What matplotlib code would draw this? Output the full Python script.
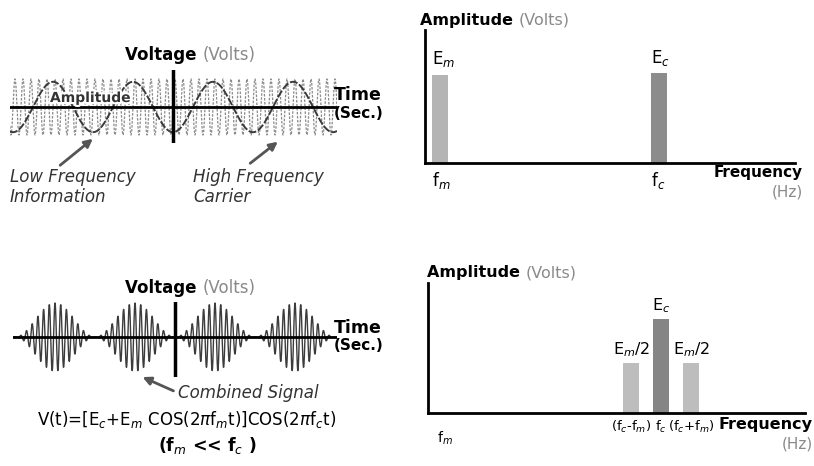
import numpy as np
import matplotlib
matplotlib.use("Agg")
import matplotlib.pyplot as plt
import matplotlib.patheffects as pe

W, H = 814, 466

# --- data (schematic units) ---
# time axis in units of the information period (1/fm)
t_top = np.linspace(-2.04, 2.05, 8000)
t_bot = np.linspace(-2.03, 2.03, 8000)
carrier_cycles_top = 10     # carrier cycles per info period (top sketch)
carrier_cycles_bot = 14     # carrier cycles per info period (combined sketch)
info_amp = 0.9
carrier_amp = 1.0
Ec = 1.0
Em = 1.0

# spectrum of the separate signals
spec1_x = [0.5, 7.8]
spec1_h = [0.98, 1.0]
spec1_lab = [r"E$_m$", r"E$_c$"]
spec1_tick = [r"f$_m$", r"f$_c$"]

# spectrum of the combined signal
spec2_x = [6.77, 7.77, 8.77]
spec2_h = [0.53, 1.0, 0.53]
spec2_lab = [r"E$_m$/2", r"E$_c$", r"E$_m$/2"]
spec2_tick = [r"(f$_c$-f$_m$)", r"f$_c$", r"(f$_c$+f$_m$)"]


def ax_px(l, t, r, b):
    return fig.add_axes([l / W, 1 - b / H, (r - l) / W, (b - t) / H])


fig = plt.figure(figsize=(W / 100, H / 100), dpi=100)
fig.patch.set_facecolor("white")

# ---- top left: carrier + information ----
ax1 = ax_px(10, 70, 337, 143)
carrier = carrier_amp * np.sin(2 * np.pi * carrier_cycles_top * t_top)
info = -info_amp * np.cos(2 * np.pi * t_top)
ax1.plot(t_top, carrier, color="#8a8a8a", lw=0.9, ls=(0, (2, 1.2)))
ax1.plot(t_top, info, color="#3a3a3a", lw=1.4, ls=(0, (4, 1)))
ax1.axhline(0, color="black", lw=2)
ax1.axvline(0, color="black", lw=2.5)
ax1.set_xlim(-2.0375, 2.05)
ax1.set_ylim(-1.286, 1.321)
ax1.axis("off")

# ---- bottom left: combined AM signal ----
ax2 = ax_px(13, 302, 337, 377)
am = (Ec - Em * np.cos(2 * np.pi * t_bot)) * np.cos(2 * np.pi * carrier_cycles_bot * t_bot)
ax2.plot(t_bot, am, color="#3c3c3c", lw=1.0)
ax2.axhline(0, color="black", lw=2)
ax2.axvline(0, color="black", lw=2.5)
ax2.set_xlim(-2.025, 2.025)
ax2.set_ylim(-2.35, 2.06)
ax2.axis("off")

# ---- spectra ----
def spectrum(ax, xs, hs, colors, xmax, ymax):
    ax.bar(xs, hs, width=0.52, color=colors, edgecolor="none")
    ax.set_xlim(0, xmax)
    ax.set_ylim(0, ymax)
    for s in ["top", "right"]:
        ax.spines[s].set_visible(False)
    for s in ["left", "bottom"]:
        ax.spines[s].set_linewidth(2)
        ax.spines[s].set_color("black")
    ax.set_xticks([])
    ax.set_yticks([])
    ax.patch.set_alpha(0)

ax3 = ax_px(425, 30, 795, 163)
spectrum(ax3, spec1_x, spec1_h, ["#b4b4b4", "#8c8c8c"], 12.33, 1.48)

ax4 = ax_px(428, 283, 805, 413)
spectrum(ax4, spec2_x, spec2_h, ["#bdbdbd", "#858585", "#bdbdbd"], 12.57, 1.383)

for x, h, lab in zip(spec1_x, spec1_h, spec1_lab):
    ax3.annotate(lab, (x - 0.26, h), xytext=(0, 4), textcoords="offset points",
                 ha="left", va="bottom", fontsize=12)
for x, lab in zip(spec1_x, spec1_tick):
    ax3.annotate(lab, (x - 0.26, 0), xytext=(0, -5), textcoords="offset points",
                 ha="left", va="top", fontsize=12)
for x, h, lab in zip(spec2_x, spec2_h, spec2_lab):
    ax4.annotate(lab, (x, h), xytext=(0, 3), textcoords="offset points",
                 ha="center", va="bottom", fontsize=11.5)
for x, lab in zip(spec2_x, spec2_tick):
    ax4.annotate(lab, (x, 0), xytext=(0, -4), textcoords="offset points",
                 ha="center", va="top", fontsize=9.5)
ax4.annotate(r"f$_m$", (0.3, 0), xytext=(0, -12), textcoords="offset points",
             ha="left", va="top", fontsize=10)

# ---- overlay for labels ----
ov = fig.add_axes([0, 0, 1, 1])
ov.set_xlim(0, W)
ov.set_ylim(H, 0)
ov.axis("off")
ov.patch.set_alpha(0)

bold = dict(fontweight="bold", color="black")
grey = dict(color="#8a8a8a")

def title(x, y, size=12):
    t1 = ov.text(x, y, "Voltage ", fontsize=size, ha="left", va="center", **bold)
    ov.annotate("(Volts)", xycoords=t1, xy=(1, 0.5), ha="left", va="center",
                fontsize=size, **grey)

title(125, 55)
title(125, 288)

t3 = ov.text(420, 20, "Amplitude ", fontsize=11.5, ha="left", va="center", **bold)
ov.annotate("(Volts)", xycoords=t3, xy=(1, 0.5), ha="left", va="center", fontsize=11.5, **grey)
t4 = ov.text(427, 273, "Amplitude ", fontsize=11.5, ha="left", va="center", **bold)
ov.annotate("(Volts)", xycoords=t4, xy=(1, 0.5), ha="left", va="center", fontsize=11.5, **grey)

for y in (95, 328):
    ov.text(334, y, "Time", fontsize=12.5, ha="left", va="center", **bold)
    ov.text(334, y + 18, "(Sec.)", fontsize=11, ha="left", va="center", **bold)

ov.text(803, 172, "Frequency", fontsize=11, ha="right", va="center", **bold)
ov.text(803, 192, "(Hz)", fontsize=11, ha="right", va="center", **grey)
ov.text(813, 425, "Frequency", fontsize=11.5, ha="right", va="center", **bold)
ov.text(813, 444, "(Hz)", fontsize=11, ha="right", va="center", **grey)

ov.text(50, 98, "Amplitude", fontsize=10, ha="left", va="center", fontweight="bold",
        color="#333333", path_effects=[pe.withStroke(linewidth=3, foreground="white")])

ital = dict(fontsize=12, style="italic", color="#333333", ha="left", va="center")
ov.text(10, 177, "Low Frequency", **ital)
ov.text(10, 197, "Information", **ital)
ov.text(193, 177, "High Frequency", **ital)
ov.text(193, 197, "Carrier", **ital)
ov.text(178, 393, "Combined Signal", **ital)

arr = dict(arrowstyle="-|>", color="#555555", lw=2, mutation_scale=12)
ov.annotate("", xy=(95, 137), xytext=(58, 167), arrowprops=arr)
ov.annotate("", xy=(280, 140), xytext=(248, 165), arrowprops=arr)
ov.annotate("", xy=(140, 376), xytext=(176, 392), arrowprops=arr)

ov.text(187, 420, r"V(t)=[E$_c$+E$_m$ COS(2$\pi$f$_m$t)]COS(2$\pi$f$_c$t)",
        fontsize=12, ha="center", va="center")
ov.text(207, 445, r"(f$_m$ << f$_c$ )", fontsize=12.5, ha="center", va="center",
        fontweight="bold")

fig.savefig("out.png", dpi=100, facecolor="white")
